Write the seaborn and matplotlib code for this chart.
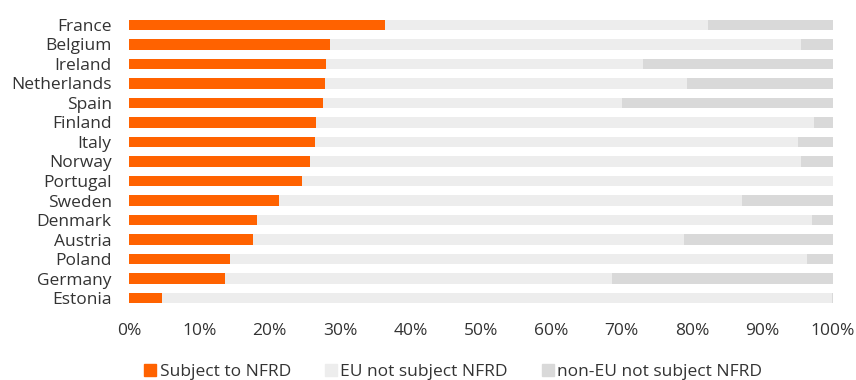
import matplotlib
matplotlib.use("Agg")
import matplotlib.pyplot as plt
from matplotlib.lines import Line2D
from matplotlib.ticker import FuncFormatter
import numpy as np
import pandas as pd
import seaborn as sns

countries = ["France", "Belgium", "Ireland", "Netherlands", "Spain", "Finland",
             "Italy", "Norway", "Portugal", "Sweden", "Denmark", "Austria",
             "Poland", "Germany", "Estonia"]
subject_nfrd = [36.3, 28.5, 28.0, 27.9, 27.6, 26.6, 26.4, 25.7, 24.6, 21.3,
                18.2, 17.6, 14.3, 13.6, 4.7]
eu_not_subject = [45.9, 66.9, 45.0, 51.3, 42.5, 70.7, 68.6, 69.8, 75.4, 65.8,
                  78.8, 61.3, 82.0, 55.0, 95.1]
non_eu_not_subject = [17.8, 4.6, 27.0, 20.8, 29.9, 2.7, 5.0, 4.5, 0.0, 12.9,
                      3.0, 21.1, 3.7, 31.4, 0.2]
series_names = ["Subject to NFRD", "EU not subject NFRD", "non-EU not subject NFRD"]
series_colors = ["#FF6200", "#EDEDED", "#D9D9D9"]
x_ticks = [0, 10, 20, 30, 40, 50, 60, 70, 80, 90, 100]

sns.set_theme(style="white")
plt.rcParams["font.family"] = ["Open Sans", "DejaVu Sans"]

df = pd.DataFrame({
    "country": countries,
    "s1": subject_nfrd,
    "s2": eu_not_subject,
    "s3": non_eu_not_subject,
})
df["c1"] = df["s1"]
df["c2"] = df["s1"] + df["s2"]
df["c3"] = df["c2"] + df["s3"]

fig = plt.figure(figsize=(8.56, 3.8), dpi=100)
ax = fig.add_axes([0.1507, 0.1901, 0.8224, 0.7698])

# stacked bars: draw cumulative totals back to front
for col, color in zip(["c3", "c2", "c1"], series_colors[::-1]):
    sns.barplot(data=df, y="country", x=col, color=color, orient="h",
                width=0.55, saturation=1, ax=ax, linewidth=0)

ax.set_xlim(0, 100)
ax.set_xticks(x_ticks)
ax.xaxis.set_major_formatter(FuncFormatter(lambda v, p: f"{v:.0f}%"))
ax.set_xlabel("")
ax.set_ylabel("")
for s in ax.spines.values():
    s.set_visible(False)
ax.tick_params(axis="x", length=0, pad=11, labelsize=12.5, labelcolor="#333333")
ax.tick_params(axis="y", length=0, pad=12.5, labelsize=12.5, labelcolor="#333333")
ax.grid(False)

handles = [Line2D([0], [0], marker="s", linestyle="none", markersize=9,
                  markerfacecolor=c, markeredgecolor=c) for c in series_colors]
fig.legend(handles, series_names, loc="center", bbox_to_anchor=(0.528, 0.022),
           ncol=3, frameon=False, fontsize=12.5, handletextpad=0.05,
           columnspacing=1.8, labelcolor="#333333", handlelength=1.0)

fig.savefig("out.png", dpi=100)
